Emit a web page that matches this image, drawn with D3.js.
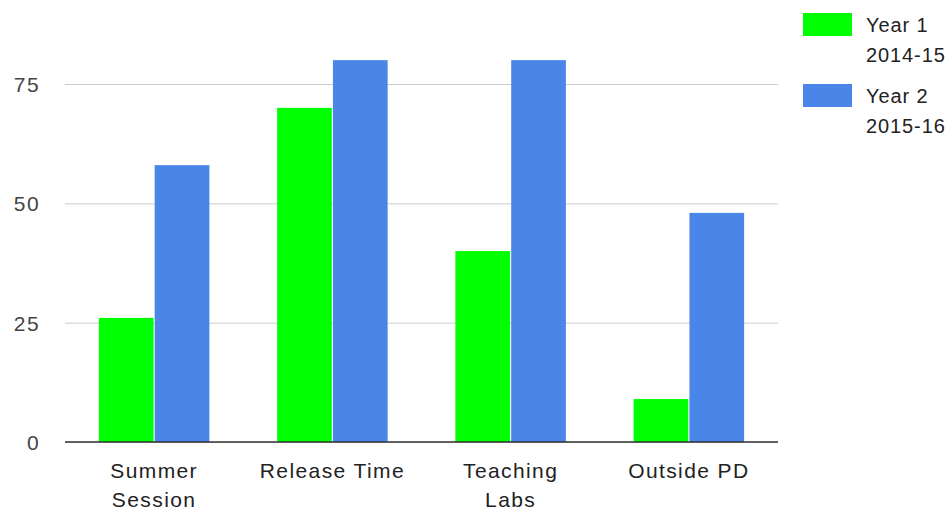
<!DOCTYPE html>
<html>
<head>
<meta charset="utf-8">
<script src="https://cdn.jsdelivr.net/npm/d3@7/dist/d3.min.js"></script>
<style>
  html, body { margin: 0; padding: 0; background: #fff; }
  svg { display: block; font-family: "Liberation Sans", Arial, sans-serif; }
  text { letter-spacing: 1.4px; }
  .legend text { letter-spacing: 0.9px; }
</style>
</head>
<body>
<svg id="chart" width="951" height="512"></svg>
<script>
// Participation by professional-development activity
const categories = [["Summer", "Session"], ["Release Time"], ["Teaching", "Labs"], ["Outside PD"]];
const seriesNames = [["Year 1", "2014-15"], ["Year 2", "2015-16"]];
const year1 = [26, 70, 40, 9];
const year2 = [58, 80, 80, 48];
const yTicks = [0, 25, 50, 75];
const colors = ["#00ff00", "#4a86e8"];

const svg = d3.select("#chart");
const plot = { left: 65, right: 778, top: 60, bottom: 442 };
const fontSize = "21px";

const x0 = d3.scaleBand()
  .domain(d3.range(categories.length))
  .range([plot.left, plot.right])
  .paddingInner(0.38)
  .paddingOuter(0.19);

const x1 = d3.scaleBand()
  .domain(d3.range(seriesNames.length))
  .range([0, x0.bandwidth()])
  .paddingInner(0.02);

const y = d3.scaleLinear()
  .domain([0, 75])
  .range([plot.bottom, 84]);

// horizontal gridlines and value labels
const yAxis = d3.axisLeft(y).tickValues(yTicks).tickSize(-(plot.right - plot.left)).tickPadding(25);
const gy = svg.append("g")
  .attr("transform", `translate(${plot.left},0)`)
  .call(yAxis);
gy.select(".domain").remove();
gy.selectAll(".tick line").attr("stroke", "#cccccc").attr("stroke-width", 1);
gy.selectAll(".tick text")
  .attr("fill", "#444")
  .attr("font-family", null)
  .attr("font-size", null)
  .style("font-size", fontSize)
  .attr("dy", "0.36em");

// bars
const series = [year1, year2];
const groups = svg.append("g").selectAll("g")
  .data(categories.map((c, i) => i))
  .join("g")
  .attr("transform", i => `translate(${x0(i)},0)`);

groups.selectAll("rect")
  .data(i => series.map((s, k) => ({ k, v: s[i] })))
  .join("rect")
  .attr("x", d => x1(d.k))
  .attr("y", d => y(d.v))
  .attr("width", x1.bandwidth())
  .attr("height", d => y(0) - y(d.v))
  .attr("fill", d => colors[d.k]);

// baseline
svg.append("line")
  .attr("x1", plot.left).attr("x2", plot.right)
  .attr("y1", y(0)).attr("y2", y(0))
  .attr("stroke", "#333").attr("stroke-width", 1.5);

// category labels
const labels = svg.append("g").selectAll("text")
  .data(categories)
  .join("text")
  .attr("x", (c, i) => x0(i) + x0.bandwidth() / 2)
  .attr("y", 478)
  .attr("text-anchor", "middle")
  .attr("fill", "#222")
  .style("font-size", fontSize);
labels.selectAll("tspan")
  .data(d => d)
  .join("tspan")
  .attr("x", function () { return d3.select(this.parentNode).attr("x"); })
  .attr("dy", (d, i) => i === 0 ? 0 : 29)
  .text(d => d);

// legend
const legend = svg.append("g").attr("class", "legend").selectAll("g")
  .data(seriesNames)
  .join("g")
  .attr("transform", (d, i) => `translate(803,${13 + i * 71})`);
legend.append("rect")
  .attr("width", 49).attr("height", 23)
  .attr("fill", (d, i) => colors[i]);
const lt = legend.append("text")
  .attr("x", 63).attr("y", 19)
  .attr("fill", "#222")
  .style("font-size", "20px");
lt.selectAll("tspan")
  .data(d => d)
  .join("tspan")
  .attr("x", 63)
  .attr("dy", (d, i) => i === 0 ? 0 : 30)
  .text(d => d);
</script>
</body>
</html>
